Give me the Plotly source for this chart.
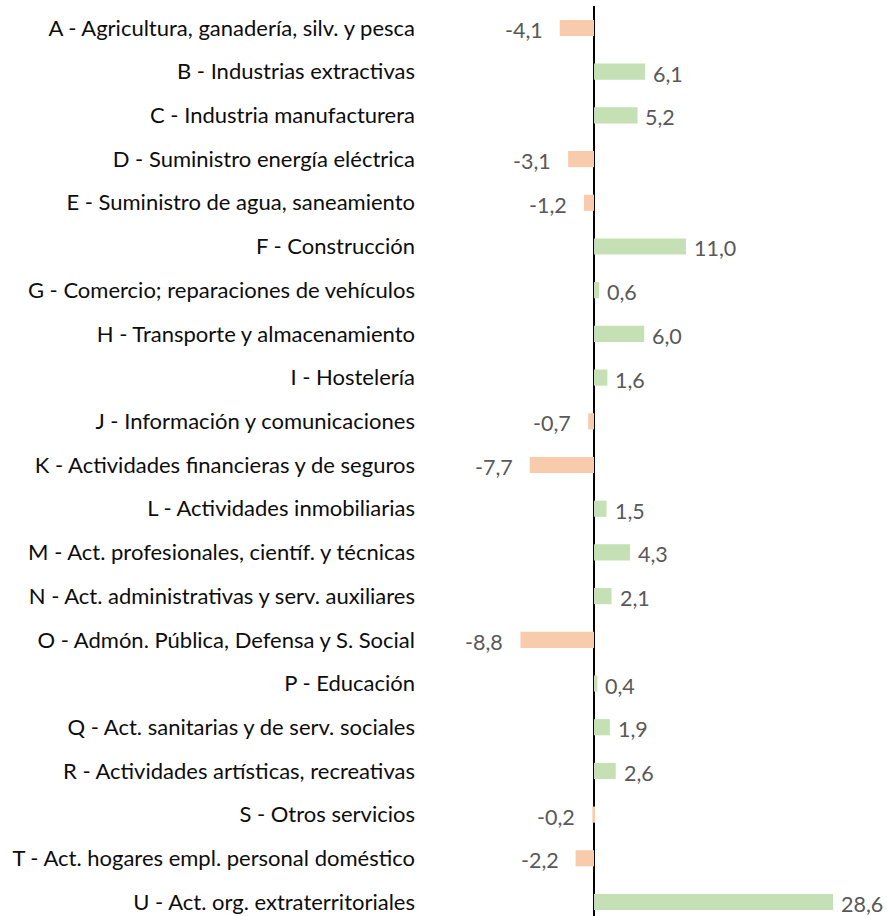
import plotly.graph_objects as go

categories = [
    "A - Agricultura, ganadería, silv. y pesca",
    "B - Industrias extractivas",
    "C - Industria manufacturera",
    "D - Suministro energía eléctrica",
    "E - Suministro de agua, saneamiento",
    "F - Construcción",
    "G - Comercio; reparaciones de vehículos",
    "H - Transporte y almacenamiento",
    "I - Hostelería",
    "J - Información y comunicaciones",
    "K - Actividades financieras y de seguros",
    "L - Actividades inmobiliarias",
    "M - Act. profesionales, científ. y técnicas",
    "N - Act. administrativas y serv. auxiliares",
    "O - Admón. Pública, Defensa y S. Social",
    "P - Educación",
    "Q - Act. sanitarias y de serv. sociales",
    "R - Actividades artísticas, recreativas",
    "S - Otros servicios",
    "T - Act. hogares empl. personal doméstico",
    "U - Act. org. extraterritoriales",
]
values = [-4.1, 6.1, 5.2, -3.1, -1.2, 11.0, 0.6, 6.0, 1.6, -0.7, -7.7,
          1.5, 4.3, 2.1, -8.8, 0.4, 1.9, 2.6, -0.2, -2.2, 28.6]

POS = "#C5E0B4"
NEG = "#F8CBAD"
FONT = "Lato, sans-serif"
colors = [POS if v >= 0 else NEG for v in values]
labels = [f"{v:.1f}".replace(".", ",") for v in values]

fig = go.Figure(go.Bar(
    x=values, y=categories, orientation="h",
    marker=dict(color=colors, line=dict(width=0)),
    width=0.37,
))

for cat, v, lab in zip(categories, values, labels):
    fig.add_annotation(
        x=v, y=cat, text=lab, showarrow=False,
        xanchor="left" if v >= 0 else "right",
        xshift=6 if v >= 0 else -15, yshift=-2,
        font=dict(family=FONT, size=21.5, color="#595959"),
    )

fig.update_layout(
    width=887, height=916,
    margin=dict(l=425, r=0, t=6, b=0),
    plot_bgcolor="white", paper_bgcolor="white",
    showlegend=False,
    font=dict(family=FONT, size=21, color="#000000"),
    xaxis=dict(range=[-20.22, 35.05], showgrid=False, showticklabels=False,
               zeroline=True, zerolinecolor="#000000", zerolinewidth=1.5,
               showline=False, ticks="", automargin=False),
    yaxis=dict(categoryorder="array", categoryarray=categories,
               range=[20.32, -0.503], showgrid=False, showline=False,
               ticks="", ticklabelstandoff=9, automargin=False,
               tickfont=dict(family=FONT, size=22, color="#0d0d0d")),
)

fig.write_html(
    "out.html",
    config={"displayModeBar": False},
    post_script="document.body.style.margin='0';document.body.style.overflow='hidden';",
)
